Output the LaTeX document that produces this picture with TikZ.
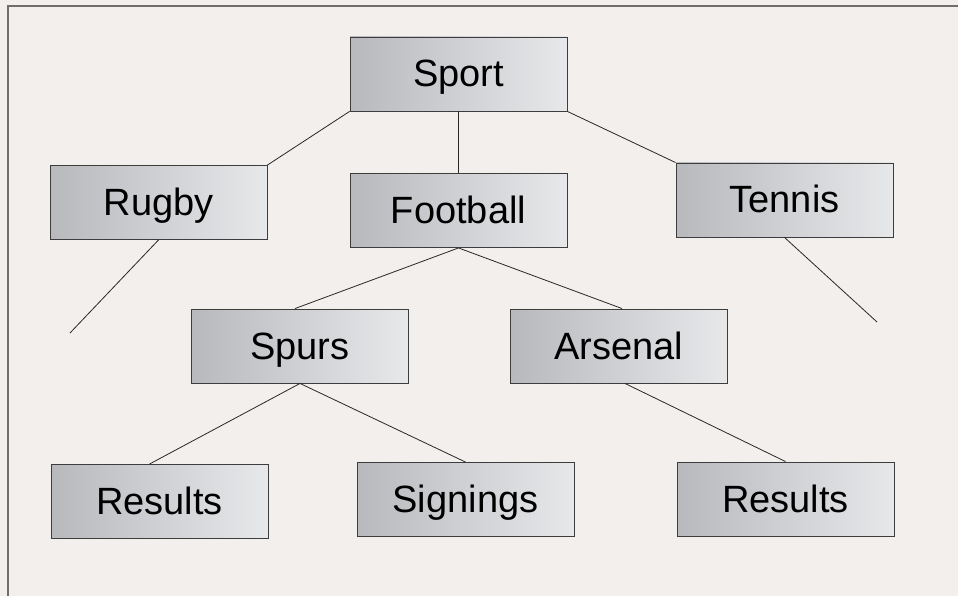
\documentclass[tikz,border=0pt]{standalone}
\usepackage{fontspec}
\setmainfont{Liberation Sans}
\usetikzlibrary{positioning}
\definecolor{paper}{RGB}{242,239,236}
\definecolor{frame gray}{RGB}{110,110,110}
\definecolor{box dark}{RGB}{184,185,189}
\definecolor{box light}{RGB}{231,232,234}
\definecolor{ink}{RGB}{40,40,40}

\begin{document}
\begin{tikzpicture}
    [x=1pt, y=1pt,
    node distance=136.5pt,
    on grid,
    topic/.style = {shape=rectangle, draw=ink!90, line width=0.9pt, left color=box dark, right color=box light,
      minimum width=217pt, minimum height=74pt, inner sep=0pt,
      font=\fontsize{38pt}{40pt}\selectfont, text height=27pt, text depth=1pt},
    link/.style={draw=ink, line width=0.8pt}]

    \fill [paper] (0,0) rectangle (958,-596);
    \useasboundingbox (0,0) rectangle (958,-596);
    \draw [frame gray, line width=2pt] (8,-596) -- (8,-6) -- (958,-6);

    \node [topic] (Sport) at (458.5,-74) {Sport};
    \node [topic] (Football) [below=of Sport] {Football};
    \node [topic] (Rugby) [left=300pt of Football, yshift=8pt] {Rugby};
    \node [topic] (Tennis) [right=326pt of Football, yshift=10.5pt] {Tennis};
    \node [topic] (Spurs) [below left=135.5pt and 158.5pt of Football] {Spurs};
    \node [topic] (Arsenal) [right=319pt of Spurs] {Arsenal};
    \node [topic] (Spurs results) [below left=155.5pt and 140.5pt of Spurs] {Results};
    \node [topic] (Signings) [below right=153.5pt and 165.5pt of Spurs] {Signings};
    \node [topic] (Arsenal results) [below right=153pt and 166.5pt of Arsenal] {Results};

    \coordinate (Rugby end) at (70,-333);
    \coordinate (Tennis end) at (877,-322);

    \draw [link] (Sport.south west) -- (Rugby.north east);
    \draw [link] (Sport) -- (Football);
    \draw [link] (Sport.south east) -- (Tennis.north west);
    \draw [link] (Rugby.south) -- (Rugby end);
    \draw [link] (Tennis.south) -- (Tennis end);
    \draw [link] (Football.south) -- ([xshift=-5pt]Spurs.north);
    \draw [link] (Football.south) -- ([xshift=3pt]Arsenal.north);
    \draw [link] (Spurs.south) -- ([xshift=-10pt]Spurs results.north);
    \draw [link] (Spurs.south) -- (Signings.north);
    \draw [link] ([xshift=6pt]Arsenal.south) -- (Arsenal results.north);
  \end{tikzpicture}
\end{document}
